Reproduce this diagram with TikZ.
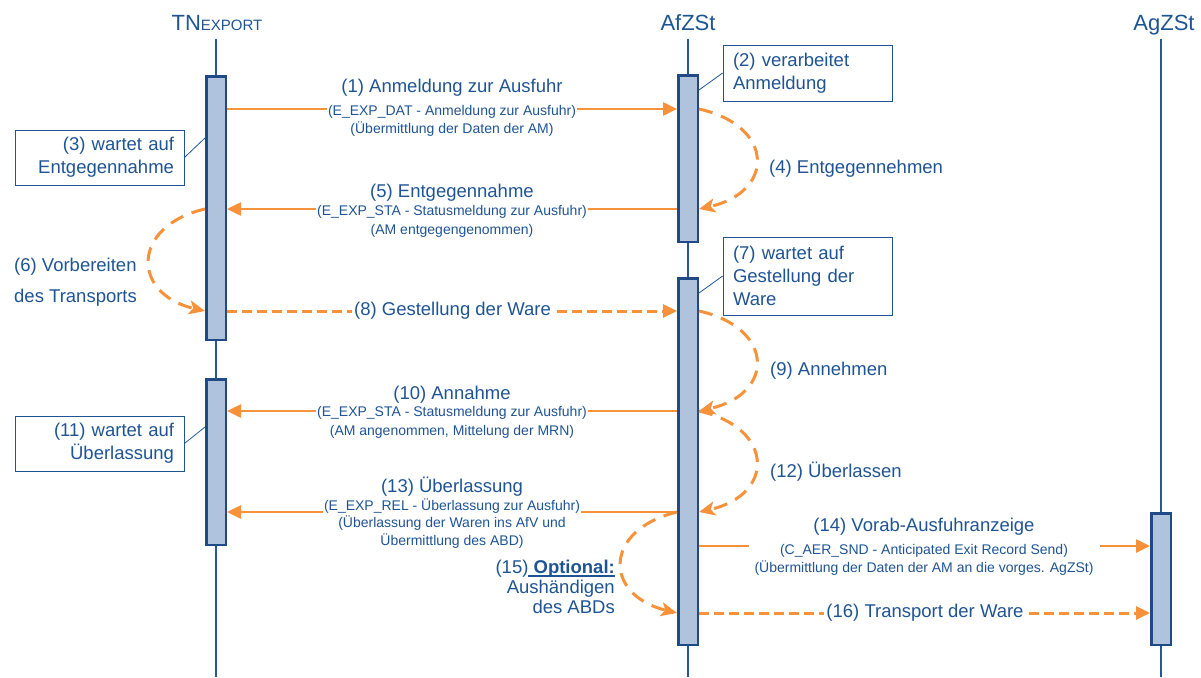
\documentclass[tikz,border=0pt]{standalone}
\usepackage{fontspec}
\setmainfont{Liberation Sans}
\usetikzlibrary{arrows.meta}
\definecolor{tblue}{RGB}{31,84,148}
\definecolor{lblue}{RGB}{38,88,152}
\definecolor{barfill}{RGB}{176,195,220}
\definecolor{barline}{RGB}{31,74,133}
\definecolor{orng}{RGB}{247,146,58}
\newsavebox\myulbox
\newcommand\myuline[1]{\sbox\myulbox{#1}\rlap{\rule[-3pt]{\wd\myulbox}{1.2pt}}\usebox\myulbox}
\begin{document}
\begin{tikzpicture}[x=1pt,y=-1pt,
  lifeline/.style={draw=lblue, line width=2.5pt},
  actbar/.style={draw=barline, fill=barfill, line width=2.5pt, minimum width=19.5pt, inner sep=0pt},
  hdr/.style={text=tblue, anchor=base, inner sep=0pt},
  mainlbl/.style={text=tblue, font=\fontsize{18.5}{22}\selectfont, inner sep=1pt},
  sublbl/.style={text=tblue, font=\fontsize{14}{18.5}\selectfont, align=center, fill=white, inner xsep=1pt, inner ysep=1pt},
  onlbl/.style={text=tblue, font=\fontsize{18.5}{22}\selectfont, fill=white, inner xsep=2pt, inner ysep=1pt},
  callout/.style={draw=tblue, line width=0.8pt, fill=white, text=tblue, font=\fontsize{18.5}{23}\selectfont, inner xsep=10pt, inner ysep=0pt, text width=149pt, minimum width=169pt},
  callline/.style={draw=tblue, line width=0.8pt},
  msg/.style={draw=orng, line width=2.5pt, -{Triangle[length=14pt,width=13pt]}},
  dmsg/.style={draw=orng, line width=3pt, dash pattern=on 10pt off 5pt, -{Triangle[length=14pt,width=13pt]}},
  loopc/.style={draw=orng, line width=3pt, dash pattern=on 14pt off 9pt, -{Stealth[length=16pt,width=14pt,inset=4pt]}}
]
\useasboundingbox (0,0) rectangle (1201,677);

% headers
\node[hdr] (hTN) at (217,31) {\fontsize{22}{22}\selectfont TN\fontsize{15}{15}\selectfont EXPORT};
\node[hdr] (hAf) at (688,31) {\fontsize{22}{22}\selectfont AfZSt};
\node[hdr] (hAg) at (1164,31) {\fontsize{22}{22}\selectfont AgZSt};

% lifelines
\draw[lifeline] (216,39) -- (216,677);
\draw[lifeline] (688,39) -- (688,677);
\draw[lifeline] (1161,39) -- (1161,677);

% activation bars
\node[actbar, minimum height=263.5pt] (tnA) at (216,208) {};
\node[actbar, minimum height=165.5pt] (tnB) at (216,462) {};
\node[actbar, minimum height=166.5pt] (afA) at (688,158.5) {};
\node[actbar, minimum height=366.5pt] (afB) at (688,461.5) {};
\node[actbar, minimum height=131.5pt] (agA) at (1161,579) {};

% y levels
\coordinate (y1) at (0,109);
\coordinate (y5) at (0,209);
\coordinate (y8) at (0,311);
\coordinate (y10) at (0,411);
\coordinate (y13) at (0,512);
\coordinate (y14) at (0,546);
\coordinate (y16) at (0,613);
\coordinate (c2) at (0,90);
\coordinate (c3) at (0,138);
\coordinate (c7) at (0,293);
\coordinate (c11) at (0,427);

% messages
\draw[msg] (tnA.east |- y1) -- (afA.west |- y1);
\node[mainlbl] (l1) at (452,88) {(1) Anmeldung zur Ausfuhr};
\node[sublbl] (s1) at (452,121) {(E\_EXP\_DAT - Anmeldung zur Ausfuhr)\\(Übermittlung der Daten der AM)};

\draw[msg] (afA.west |- y5) -- (tnA.east |- y5);
\node[mainlbl] (l5) at (452,193) {(5) Entgegennahme};
\node[sublbl] (s5) at (452,221.5) {(E\_EXP\_STA - Statusmeldung zur Ausfuhr)\\(AM entgegengenommen)};

\draw[dmsg] (tnA.east |- y8) -- (afB.west |- y8);
\node[onlbl] (l8) at (452.5,311) {(8) Gestellung der Ware};

\draw[msg] (afB.west |- y10) -- (tnB.east |- y10);
\node[mainlbl] (l10) at (452,395) {(10) Annahme};
\node[sublbl] (s10) at (452,422.5) {(E\_EXP\_STA - Statusmeldung zur Ausfuhr)\\(AM angenommen, Mittelung der MRN)};

\draw[msg] (afB.west |- y13) -- (tnB.east |- y13);
\node[mainlbl] (l13) at (452,487) {(13) Überlassung};
\node[sublbl, font=\fontsize{14}{17.5}\selectfont] (s13) at (452,523.5) {(E\_EXP\_REL - Überlassung zur Ausfuhr)\\(Überlassung der Waren ins AfV und\\Übermittlung des ABD)};

\draw[msg] (afB.east |- y14) -- (agA.west |- y14);
\node[mainlbl] (l14) at (924,527) {(14) Vorab-Ausfuhranzeige};
\node[sublbl, inner xsep=6pt] (s14) at (924,560) {(C\_AER\_SND - Anticipated Exit Record Send)\\(Übermittlung der Daten der AM an die vorges. AgZSt)};

\draw[dmsg] (afB.east |- y16) -- (agA.west |- y16);
\node[onlbl] (l16) at (925,613) {(16) Transport der Ware};

% self loops
\draw[loopc] (afA.east |- y1) .. controls (775,126) and (775,192) .. (afA.east |- y5);
\node[mainlbl, anchor=west] (l4) at (768,169) {(4) Entgegennehmen};

\draw[loopc] (tnA.west |- y5) .. controls (131,226) and (131,294) .. (tnA.west |- y8);
\node[mainlbl, anchor=west, align=left, font=\fontsize{18.5}{31}\selectfont] (l6) at (13,282.5) {(6) Vorbereiten\\des Transports};

\draw[loopc] (afB.east |- y8) .. controls (775,328) and (775,394) .. (afB.east |- y10);
\node[mainlbl, anchor=west] (l9) at (769,371) {(9) Annehmen};

\draw[loopc] (afB.east |- y10) .. controls (775,428) and (775,495) .. (afB.east |- y13);
\node[mainlbl, anchor=west] (l12) at (769,472) {(12) Überlassen};

\draw[loopc] (afB.west |- y13) .. controls (603,530) and (603,595) .. (afB.west |- y16);
\node[mainlbl, anchor=east, align=right, font=\fontsize{18.5}{20}\selectfont] (l15) at (616,587) {(15)\myuline{ \textbf{Optional:}}\\Aushändigen\\des ABDs};

% callouts
\node[callout, align=left, minimum height=56pt] (b2) at (807.5,73) {(2) verarbeitet\\Anmeldung};
\draw[callline] (b2.west) -- (afA.east |- c2);
\node[callout, align=right, minimum height=55pt] (b3) at (99.5,157.5) {(3) wartet auf\\Entgegennahme};
\draw[callline] (b3.east) -- (tnA.west |- c3);
\node[callout, align=left, minimum height=78pt] (b7) at (807.5,276) {(7) wartet auf\\Gestellung der\\Ware};
\draw[callline] (b7.west) -- (afB.east |- c7);
\node[callout, align=right, minimum height=55pt] (b11) at (99.5,443.5) {(11) wartet auf\\Überlassung};
\draw[callline] (b11.east) -- (tnB.west |- c11);
\end{tikzpicture}
\end{document}
